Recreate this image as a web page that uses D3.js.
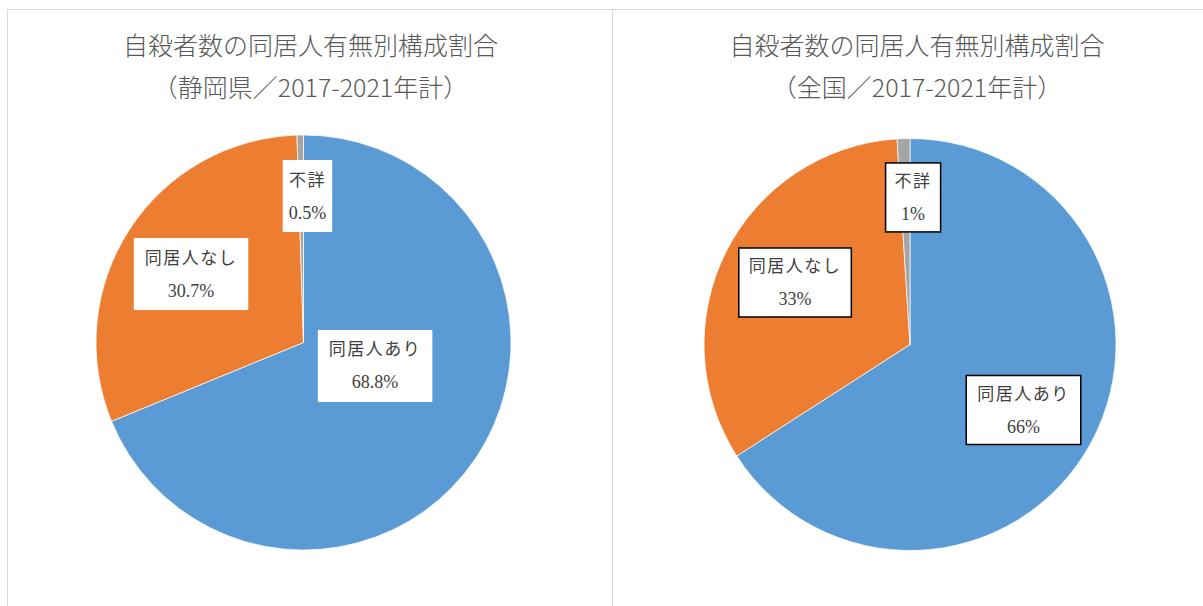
<!DOCTYPE html>
<html>
<head>
<meta charset="utf-8">
<script src="https://cdn.jsdelivr.net/npm/d3@7"></script>
<style>
  html, body { margin: 0; padding: 0; background: #fff; }
  svg { display: block; }
</style>
</head>
<body>
<svg id="chart" width="1203" height="606"></svg>
<script>
// ─── Data ─────────────────────────────────────────────────────────────────────

const categories = ["同居人あり", "同居人なし", "不詳"];
const shizuokaValues = [68.8, 30.7, 0.5];
const nationalValues = [65.9, 33.1, 1.0];

const titleLine1 = "自殺者数の同居人有無別構成割合";
const shizuokaTitle2 = "（静岡県／2017-2021年計）";
const nationalTitle2 = "（全国／2017-2021年計）";

const sliceColors = ["#5B9BD5", "#ED7D31", "#A5A5A5"];

// ─── Layout ───────────────────────────────────────────────────────────────────

// label centres given in units of the radius, relative to pie centre
const panels = [
    {
        values: shizuokaValues, title2: shizuokaTitle2, fmt: d3.format(".1f"),
        x0: 7, x1: 612, cx: 303.5, cy: 342.5, r: 207.5, boxed: false,
        labelPos: [[0.345, 0.113], [-0.542, -0.330], [0.019, -0.706]],
        padX: [11, 11, 6]
    },
    {
        values: nationalValues, title2: nationalTitle2, fmt: d3.format(".0f"),
        x0: 612, x1: 1210, cx: 910, cy: 344.5, r: 206, boxed: true,
        labelPos: [[0.551, 0.318], [-0.558, -0.301], [0.015, -0.714]],
        padX: [11, 10, 9]
    }
];

const svg = d3.select("#chart");

const pie = d3.pie().sort(null).value(d => d);

panels.forEach(p => {
    const g = svg.append("g");

    // panel frame
    g.append("rect")
        .attr("x", p.x0 + 0.5)
        .attr("y", 9.5)
        .attr("width", p.x1 - p.x0)
        .attr("height", 620)
        .attr("fill", "white")
        .attr("stroke", "#d9d9d9")
        .attr("stroke-width", 1);

    const titleX = p.cx + 7;

    [titleLine1, p.title2].forEach((txt, k) => {
        g.append("text")
            .attr("x", titleX)
            .attr("y", 55 + k * 42)
            .attr("text-anchor", "middle")
            .attr("font-family", "'Noto Sans CJK JP', sans-serif")
            .attr("font-size", 25)
            .attr("font-weight", 300)
            .attr("fill", "#595959")
            .text(txt);
    });

    const arc = d3.arc().innerRadius(0).outerRadius(p.r);

    const pieG = g.append("g").attr("transform", `translate(${p.cx},${p.cy})`);

    pieG.selectAll("path")
        .data(pie(p.values))
        .join("path")
        .attr("d", arc)
        .attr("fill", (d, i) => sliceColors[i])
        .attr("stroke", "white")
        .attr("stroke-width", 0.7);

    // data labels
    const lineGap = 33;
    pie(p.values).forEach((d, i) => {
        const lx = p.labelPos[i][0] * p.r;
        const ly = p.labelPos[i][1] * p.r;
        const lg = pieG.append("g").attr("transform", `translate(${lx},${ly})`);

        const box = lg.append("rect");

        const t1 = lg.append("text")
            .attr("x", 0)
            .attr("y", -lineGap / 2 + 6)
            .attr("text-anchor", "middle")
            .attr("font-family", "'Liberation Serif', 'Noto Sans CJK JP', serif")
            .attr("font-size", 17)
            .attr("letter-spacing", 1.5)
            .attr("fill", "#404040")
            .text(categories[i]);

        const t2 = lg.append("text")
            .attr("x", 0)
            .attr("y", lineGap / 2 + 6)
            .attr("text-anchor", "middle")
            .attr("font-family", "'Liberation Serif', 'Noto Sans CJK JP', serif")
            .attr("font-size", 18)
            .attr("fill", "#404040")
            .text(p.fmt(d.data) + "%");

        const w = Math.max(t1.node().getBBox().width, t2.node().getBBox().width) + 2 * p.padX[i];
        const h = p.boxed ? 69 : 72;
        box.attr("x", -w / 2)
            .attr("y", -h / 2)
            .attr("width", w)
            .attr("height", h)
            .attr("fill", "white")
            .attr("stroke", p.boxed ? "#000" : "none")
            .attr("stroke-width", 1.5);
    });
});
</script>
</body>
</html>
